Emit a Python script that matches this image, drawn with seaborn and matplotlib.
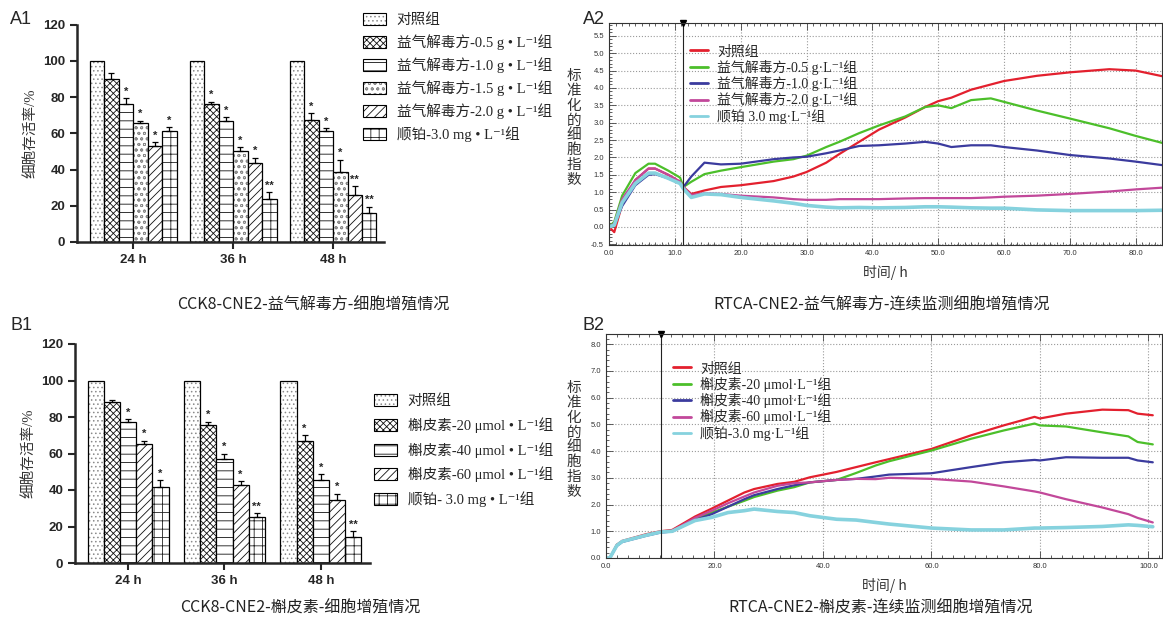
import numpy as np
import pandas as pd
import matplotlib
matplotlib.use('Agg')
import matplotlib.pyplot as plt
import matplotlib.patches as mpatches
from matplotlib.colors import to_rgba
from matplotlib.lines import Line2D
from matplotlib.font_manager import FontProperties
from matplotlib.ticker import MultipleLocator, FormatStrFormatter
import seaborn as sns

sns.set_style('ticks')
plt.rcParams['font.family'] = ['Liberation Sans', 'Noto Sans CJK SC', 'DejaVu Sans']
plt.rcParams['hatch.linewidth'] = 0.6
SERIF = ['Liberation Serif', 'Noto Sans CJK SC', 'DejaVu Sans']
CJK = ['Noto Sans CJK SC', 'DejaVu Sans']

# ---------- CCK8 数据 ----------
times = ['24 h', '36 h', '48 h']

a1_groups = ['对照组', '益气解毒方-0.5 g • L⁻¹组', '益气解毒方-1.0 g • L⁻¹组',
             '益气解毒方-1.5 g • L⁻¹组', '益气解毒方-2.0 g • L⁻¹组', '顺铂-3.0 mg • L⁻¹组']
a1_24h = [100, 90, 76, 65.5, 53, 61]
a1_36h = [100, 76, 67, 50, 43.5, 24]
a1_48h = [100, 67.5, 61, 38.5, 26, 16]
a1_err_24h = [0, 3, 3.5, 1.5, 2, 2.5]
a1_err_36h = [0, 1.5, 2, 2.5, 3, 3.5]
a1_err_48h = [0, 3.5, 2, 7, 5, 3.5]
a1_sig_24h = ['', '', '*', '*', '*', '*']
a1_sig_36h = ['', '*', '*', '*', '*', '**']
a1_sig_48h = ['', '*', '*', '*', '**', '**']

b1_groups = ['对照组', '槲皮素-20 μmol • L⁻¹组', '槲皮素-40 μmol • L⁻¹组',
             '槲皮素-60 μmol • L⁻¹组', '顺铂- 3.0 mg • L⁻¹组']
b1_24h = [100, 88, 77, 65, 41.5]
b1_36h = [100, 75.5, 57, 42.5, 25]
b1_48h = [100, 67, 45.5, 34.5, 14.5]
b1_err_24h = [0, 1.5, 2, 2, 4]
b1_err_36h = [0, 2, 3, 2.5, 2.5]
b1_err_48h = [0, 3, 3, 3.5, 3]
b1_sig_24h = ['', '', '*', '*', '*']
b1_sig_36h = ['', '*', '*', '*', '**']
b1_sig_48h = ['', '*', '*', '*', '**']

# ---------- RTCA 数据 ----------
a2_labels = ['对照组', '益气解毒方-0.5 g·L⁻¹组', '益气解毒方-1.0 g·L⁻¹组',
             '益气解毒方-2.0 g·L⁻¹组', '顺铂 3.0 mg·L⁻¹组']
a2_t = [0, 0.8, 2, 4, 6, 7, 9, 10.8, 11.3, 12.5, 14.5, 17, 20, 25, 28, 30, 33, 35, 38, 41,
        45, 48, 50, 52, 55, 58, 60, 65, 70, 76, 80, 84]
a2_ctrl = [0, -0.15, 0.65, 1.35, 1.68, 1.68, 1.5, 1.3, 1.15, 0.95, 1.05, 1.15, 1.2, 1.32, 1.45, 1.58,
           1.85, 2.1, 2.45, 2.8, 3.15, 3.45, 3.62, 3.72, 3.95, 4.1, 4.2, 4.35, 4.45, 4.54, 4.5, 4.34]
a2_05 = [0, 0.15, 0.9, 1.55, 1.82, 1.82, 1.62, 1.42, 1.15, 1.3, 1.52, 1.62, 1.72, 1.88, 1.95, 2.05,
         2.3, 2.45, 2.7, 2.92, 3.18, 3.45, 3.5, 3.42, 3.65, 3.7, 3.6, 3.35, 3.12, 2.84, 2.62, 2.42]
a2_10 = [0, 0.05, 0.6, 1.2, 1.5, 1.52, 1.4, 1.25, 1.15, 1.45, 1.85, 1.8, 1.82, 1.95, 2.0, 2.02,
         2.12, 2.2, 2.33, 2.35, 2.4, 2.45, 2.4, 2.3, 2.35, 2.35, 2.3, 2.2, 2.07, 1.97, 1.88, 1.78]
a2_20 = [0, 0.1, 0.8, 1.35, 1.68, 1.68, 1.5, 1.3, 1.15, 0.92, 0.97, 0.95, 0.9, 0.85, 0.8, 0.78,
         0.78, 0.8, 0.8, 0.8, 0.82, 0.83, 0.83, 0.83, 0.83, 0.85, 0.87, 0.9, 0.95, 1.02, 1.08, 1.13]
a2_cis = [0, 0.05, 0.7, 1.25, 1.55, 1.55, 1.4, 1.25, 1.1, 0.85, 0.95, 0.93, 0.85, 0.75, 0.68, 0.62,
          0.57, 0.55, 0.56, 0.55, 0.56, 0.58, 0.58, 0.57, 0.55, 0.54, 0.54, 0.49, 0.47, 0.47, 0.47, 0.48]
a2_add = 11.3

b2_labels = ['对照组', '槲皮素-20 μmol·L⁻¹组', '槲皮素-40 μmol·L⁻¹组',
             '槲皮素-60 μmol·L⁻¹组', '顺铂-3.0 mg·L⁻¹组']
b2_t = [0, 0.7, 2, 3, 7.4, 10, 12.2, 16.4, 19.5, 22.5, 25.5, 27.3, 31.6, 34.7, 37.6, 42.5,
        46.1, 49.7, 52.2, 60, 67.3, 73.3, 79, 80, 84.8, 91.5, 96.3, 98, 100.8]
b2_ctrl = [0, 0, 0.5, 0.64, 0.89, 1.0, 1.05, 1.55, 1.85, 2.15, 2.45, 2.58, 2.77, 2.85, 3.02, 3.22,
           3.4, 3.58, 3.7, 4.08, 4.59, 4.96, 5.28, 5.22, 5.4, 5.55, 5.53, 5.4, 5.34]
b2_20 = [0, 0, 0.48, 0.62, 0.86, 0.97, 1.0, 1.45, 1.7, 1.92, 2.14, 2.28, 2.52, 2.65, 2.83, 2.92,
         3.18, 3.46, 3.62, 4.02, 4.46, 4.77, 5.03, 4.96, 4.92, 4.7, 4.55, 4.34, 4.25]
b2_40 = [0, 0, 0.45, 0.6, 0.83, 0.95, 0.99, 1.42, 1.64, 1.92, 2.2, 2.35, 2.58, 2.72, 2.83, 2.92,
         2.96, 3.05, 3.12, 3.17, 3.4, 3.58, 3.67, 3.65, 3.77, 3.75, 3.75, 3.65, 3.58]
b2_60 = [0, 0, 0.48, 0.62, 0.86, 0.98, 1.02, 1.5, 1.77, 2.05, 2.3, 2.45, 2.7, 2.8, 2.83, 2.92,
         2.96, 2.95, 3.0, 2.96, 2.86, 2.68, 2.49, 2.45, 2.2, 1.89, 1.64, 1.5, 1.33]
b2_cis = [0, 0, 0.47, 0.62, 0.85, 0.97, 1.0, 1.4, 1.52, 1.7, 1.77, 1.83, 1.74, 1.7, 1.58, 1.45,
          1.42, 1.33, 1.27, 1.12, 1.05, 1.05, 1.12, 1.12, 1.14, 1.18, 1.24, 1.22, 1.17]
b2_add = 10.2

line_colors = ['#e3202e', '#4cbf2a', '#3b3b9e', '#c2489a', '#86d2de']
line_widths = [1.6, 1.6, 1.6, 1.6, 2.6]

W, H = 1163, 617
fig = plt.figure(figsize=(W / 100, H / 100), dpi=100)


def px(x0, y0, x1, y1):
    # 像素框 -> figure 坐标
    return [x0 / W, 1 - y1 / H, (x1 - x0) / W, (y1 - y0) / H]


def hatch_patch(p, hatch, hcol):
    p.set_hatch(hatch)
    p._hatch_color = to_rgba(hcol)


def bar_panel(ax, groups, vals, errs, sigs, hatches, hcols, width, xlim):
    rows = []
    for ti, t in enumerate(times):
        for gi, g in enumerate(groups):
            rows.append({'time': t, 'group': g, 'val': vals[ti][gi],
                         'err': errs[ti][gi], 'sig': sigs[ti][gi]})
    df = pd.DataFrame(rows)
    sns.barplot(data=df, x='time', y='val', hue='group', order=times, hue_order=groups,
                palette=['white'] * len(groups), saturation=1, edgecolor='black',
                linewidth=0.9, width=width, errorbar=None, legend=False, ax=ax)
    bar_conts = list(ax.containers)
    for gi, cont in enumerate(bar_conts):
        for bar in cont.patches:
            hatch_patch(bar, hatches[gi], hcols[gi])
            xc = bar.get_x() + bar.get_width() / 2
            ti = int(round(xc))
            r = df[(df.group == groups[gi]) & (df.time == times[ti])].iloc[0]
            h = bar.get_height()
            if r.err > 0:
                ax.errorbar(xc, h, yerr=[[0], [r.err]], fmt='none', ecolor='black',
                            elinewidth=0.9, capsize=2.5, capthick=0.9)
            if r.sig:
                ax.text(xc, h + r.err + 0.8, r.sig, ha='center', va='bottom',
                        fontsize=8, fontweight='bold')
    ax.set_xlim(*xlim)
    ax.set_ylim(0, 120)
    ax.set_yticks([0, 20, 40, 60, 80, 100, 120])
    sns.despine(ax=ax)
    for s in ['left', 'bottom']:
        ax.spines[s].set_linewidth(1.8)
    ax.tick_params(width=1.5, length=5, labelsize=9.5)
    for lab in ax.get_xticklabels() + ax.get_yticklabels():
        lab.set_fontweight('bold')
    ax.set_xlabel('')
    ax.set_ylabel('细胞存活率/%', family=SERIF, fontsize=10.5, color='#333333')


def bar_legend(hatches, hcols, labels, x, y, spacing):
    hs = []
    for h, c in zip(hatches, hcols):
        p = mpatches.Patch(facecolor='white', edgecolor='black', lw=0.8)
        hatch_patch(p, h, c)
        hs.append(p)
    fig.legend(hs, labels, loc='upper left', bbox_to_anchor=(x / W, 1 - y / H),
               frameon=False, prop=FontProperties(family=SERIF, size=10.5), handlelength=1.6,
               handleheight=0.9, handletextpad=0.7, labelspacing=spacing, borderpad=0,
               borderaxespad=0)


def rtca_panel(ax, t, series, labels, xmax, ylim, xmaj, xmin, ymaj, ymin, t_add):
    frames = []
    for lab, v in zip(labels, series):
        frames.append(pd.DataFrame({'t': t, 'v': v, 'group': lab}))
    df = pd.concat(frames, ignore_index=True)
    sns.lineplot(data=df, x='t', y='v', hue='group', hue_order=labels,
                 palette=dict(zip(labels, line_colors)), size='group', size_order=labels,
                 sizes=dict(zip(labels, line_widths)), sort=False, estimator=None,
                 legend=False, ax=ax)
    ax.set_xlim(0, xmax)
    ax.set_ylim(*ylim)
    ax.xaxis.set_major_locator(MultipleLocator(xmaj))
    ax.xaxis.set_minor_locator(MultipleLocator(xmin))
    ax.yaxis.set_major_locator(MultipleLocator(ymaj))
    ax.yaxis.set_minor_locator(MultipleLocator(ymin))
    ax.xaxis.set_major_formatter(FormatStrFormatter('%.1f'))
    ax.yaxis.set_major_formatter(FormatStrFormatter('%.1f'))
    ax.grid(True, which='major', linestyle=':', color='#9a9a9a', linewidth=0.8)
    ax.tick_params(which='both', direction='in', top=True, right=False, color='#444444',
                   labelsize=5.5, labelcolor='#333333', width=0.6)
    ax.tick_params(which='major', length=5)
    ax.tick_params(which='minor', length=2.5)
    for s in ax.spines.values():
        s.set_linewidth(0.8)
        s.set_color('#333333')
    ax.axvline(t_add, color='#222222', lw=0.8)
    ax.plot([t_add], [ylim[1]], marker='v', color='black', ms=5, clip_on=False)
    ax.set_xlabel('时间/ h', family=CJK, fontsize=10, color='#333333', labelpad=6)
    ax.set_ylabel('')
    handles = [Line2D([], [], color=c, lw=2) for c in line_colors]
    return handles


# ---------- A1 ----------
ax_a1 = fig.add_axes(px(77, 24.5, 384, 242))
a1_hatch = ['....', 'xxxxx', '--', 'ooo', '////', '++']
a1_hcol = ['#8a8a8a', '#111111', '#111111', '#8a8a8a', '#111111', '#222222']
bar_panel(ax_a1, a1_groups, [a1_24h, a1_36h, a1_48h], [a1_err_24h, a1_err_36h, a1_err_48h],
          [a1_sig_24h, a1_sig_36h, a1_sig_48h], a1_hatch, a1_hcol, 0.87, (-0.56, 2.51))
bar_legend(a1_hatch, a1_hcol, a1_groups, 363, 13, 0.5)

# ---------- B1 ----------
ax_b1 = fig.add_axes(px(75, 344, 370, 563))
b1_hatch = ['....', 'xxxxx', '--', '////', '++']
b1_hcol = ['#8a8a8a', '#111111', '#111111', '#111111', '#222222']
bar_panel(ax_b1, b1_groups, [b1_24h, b1_36h, b1_48h], [b1_err_24h, b1_err_36h, b1_err_48h],
          [b1_sig_24h, b1_sig_36h, b1_sig_48h], b1_hatch, b1_hcol, 0.84, (-0.55, 2.51))
bar_legend(b1_hatch, b1_hcol, b1_groups, 374, 394, 0.62)

# ---------- A2 ----------
ax_a2 = fig.add_axes(px(609, 23, 1162, 245))
h_a2 = rtca_panel(ax_a2, a2_t, [a2_ctrl, a2_05, a2_10, a2_20, a2_cis], a2_labels, 84,
                  (-0.52, 5.87), 10, 1, 0.5, 0.1, a2_add)
ax_a2.legend(h_a2, a2_labels, loc='upper left', bbox_to_anchor=(690 / W, 1 - 45 / H),
             bbox_transform=fig.transFigure, frameon=False,
             prop=FontProperties(family=SERIF, size=10), handlelength=1.3,
             handletextpad=0.65, labelspacing=0.1, borderpad=0, borderaxespad=0)

# ---------- B2 ----------
ax_b2 = fig.add_axes(px(606, 334, 1162, 558))
h_b2 = rtca_panel(ax_b2, b2_t, [b2_ctrl, b2_20, b2_40, b2_60, b2_cis], b2_labels, 102.5,
                  (0, 8.38), 20, 2, 1.0, 0.2, b2_add)
ax_b2.legend(h_b2, b2_labels, loc='upper left', bbox_to_anchor=(673 / W, 1 - 362 / H),
             bbox_transform=fig.transFigure, frameon=False,
             prop=FontProperties(family=SERIF, size=10), handlelength=1.3,
             handletextpad=0.65, labelspacing=0.1, borderpad=0, borderaxespad=0)

# ---------- 文字 ----------
stack = '\n'.join('标准化的细胞指数')
fig.text(574 / W, 1 - 128 / H, stack, ha='center', va='center', family=CJK,
         fontsize=10.5, linespacing=1.07, color='#333333')
fig.text(574 / W, 1 - 440 / H, stack, ha='center', va='center', family=CJK,
         fontsize=10.5, linespacing=1.07, color='#333333')

for x, y, s in [(10, 20, 'A1'), (10, 325, 'B1'), (583, 20, 'A2'), (583, 325, 'B2')]:
    fig.text(x / W, 1 - y / H, s, ha='left', va='center', fontsize=13)

titles = [(313, 305, 'CCK8-CNE2-益气解毒方-细胞增殖情况'),
          (300, 608, 'CCK8-CNE2-槲皮素-细胞增殖情况'),
          (882, 305, 'RTCA-CNE2-益气解毒方-连续监测细胞增殖情况'),
          (881, 608, 'RTCA-CNE2-槲皮素-连续监测细胞增殖情况')]
for x, y, s in titles:
    fig.text(x / W, 1 - y / H, s, ha='center', va='center', family=CJK, fontsize=11.5,
             color='#222222')

fig.savefig('out.png', dpi=100)
